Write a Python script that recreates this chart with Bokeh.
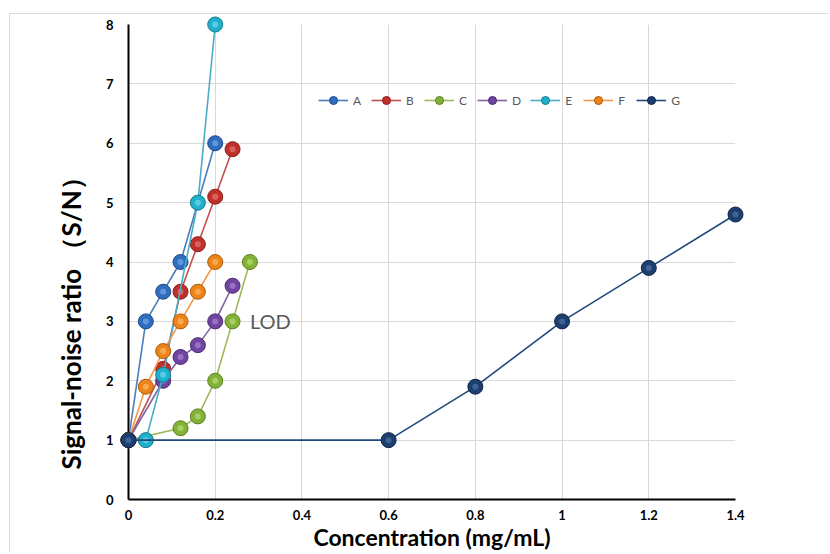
from bokeh.plotting import figure
from bokeh.models import Range1d, FixedTicker, Label, Legend, LegendItem, Title
from bokeh.embed import file_html
from bokeh.resources import INLINE

# ---- data ----
x_ticks = [0, 0.2, 0.4, 0.6, 0.8, 1.0, 1.2, 1.4]
x_tick_labels = ["0", "0.2", "0.4", "0.6", "0.8", "1", "1.2", "1.4"]
y_ticks = [0, 1, 2, 3, 4, 5, 6, 7, 8]
y_tick_labels = ["0", "1", "2", "3", "4", "5", "6", "7", "8"]

series_names = ["A", "B", "C", "D", "E", "F", "G"]
a_x = [0, 0.04, 0.08, 0.12, 0.2]
a_y = [1, 3.0, 3.5, 4.0, 6.0]
b_x = [0, 0.08, 0.12, 0.16, 0.2, 0.24]
b_y = [1, 2.2, 3.5, 4.3, 5.1, 5.9]
c_x = [0, 0.12, 0.16, 0.2, 0.24, 0.28]
c_y = [1, 1.2, 1.4, 2.0, 3.0, 4.0]
d_x = [0, 0.08, 0.12, 0.16, 0.2, 0.24]
d_y = [1, 2.0, 2.4, 2.6, 3.0, 3.6]
e_x = [0, 0.04, 0.08, 0.16, 0.2]
e_y = [1, 1.0, 2.1, 5.0, 8.0]
f_x = [0, 0.04, 0.08, 0.12, 0.16, 0.2]
f_y = [1, 1.9, 2.5, 3.0, 3.5, 4.0]
g_x = [0, 0.6, 0.8, 1.0, 1.2, 1.4]
g_y = [1, 1.0, 1.9, 3.0, 3.9, 4.8]

lod_text = "LOD"
lod_x, lod_y = 0.28, 3.0
x_title = "Concentration (mg/mL)"
y_title = "Signal-noise ratio （S/N）"

# ---- styles ----
line_colors = ["#4a7ebb", "#c0504d", "#9bbb59", "#8064a2", "#4bacc6", "#f79646", "#1f497d"]
fill_colors = ["#2f6dbf", "#c0302a", "#82b336", "#7044a0", "#1fb0cc", "#ee8418", "#1c3f70"]
edge_colors = ["#1d4a86", "#8a1d18", "#5a7f1f", "#4c2a72", "#13788c", "#a95a0c", "#0f2446"]
hi_colors = ["#8cb6ee", "#ee8c86", "#c8e68e", "#b79ad8", "#8ee2f0", "#fbc88c", "#5c80b8"]

xs = [a_x, b_x, c_x, d_x, e_x, f_x, g_x]
ys = [a_y, b_y, c_y, d_y, e_y, f_y, g_y]

W, H = 819, 539
p = figure(width=W, height=H, output_backend="svg", toolbar_location=None,
           x_range=Range1d(0, 1.4), y_range=Range1d(0, 8),
           min_border_left=118, min_border_right=94, min_border_top=10, min_border_bottom=53)
p.margin = (13, 0, 0, 9)
p.styles = {"border-top": "1px solid #d9d9d9", "border-left": "1px solid #d9d9d9"}
p.outline_line_color = None
p.background_fill_color = "white"
p.border_fill_color = "white"

p.xaxis.ticker = FixedTicker(ticks=x_ticks)
p.yaxis.ticker = FixedTicker(ticks=y_ticks)
p.xaxis.major_label_overrides = {t: l for t, l in zip(x_ticks, x_tick_labels)}
p.yaxis.major_label_overrides = {t: l for t, l in zip(y_ticks, y_tick_labels)}
for ax in (p.xaxis, p.yaxis):
    ax.axis_line_color = "black"
    ax.axis_line_width = 2
    ax.major_tick_line_color = None
    ax.minor_tick_line_color = None
    ax.major_label_text_font = "Lato"
    ax.major_label_text_font_style = "bold"
    ax.major_label_text_font_size = "13px"
    ax.major_label_text_color = "black"
p.xaxis.major_label_standoff = 4
p.yaxis.major_label_standoff = 9

p.xaxis.axis_label = x_title
p.xaxis.axis_label_text_font = "Lato"
p.xaxis.axis_label_text_font_size = "23px"
p.xaxis.axis_label_text_font_style = "bold"
p.xaxis.axis_label_text_color = "black"
p.xaxis.axis_label_standoff = 0

p.add_layout(Title(text=y_title, align="left", offset=30, standoff=32,
                   text_font="Lato", text_font_size="26px", text_font_style="bold",
                   text_color="black"), "left")

p.xgrid.ticker = FixedTicker(ticks=x_ticks)
p.ygrid.ticker = FixedTicker(ticks=y_ticks)
p.grid.grid_line_color = "#d9d9d9"
p.grid.grid_line_width = 1

items = []
for i, name in enumerate(series_names):
    ln = p.line(xs[i], ys[i], line_color=line_colors[i], line_width=1.6)
    ln.level = "overlay"
    sc = p.scatter(xs[i], ys[i], size=15, fill_color=fill_colors[i],
                   line_color=edge_colors[i], line_width=1)
    sc.level = "overlay"
    hi = p.scatter(xs[i], ys[i], size=6, fill_color=hi_colors[i], fill_alpha=0.55,
                   line_color=None)
    hi.level = "overlay"
    items.append(LegendItem(label=name, renderers=[ln, sc]))

legend = Legend(items=items, orientation="horizontal", location=(190, 389),
                glyph_width=30, glyph_height=20, label_standoff=5, spacing=9,
                label_width=9, padding=0, margin=0,
                border_line_color=None, background_fill_alpha=0,
                label_text_font="Lato", label_text_font_size="12px",
                label_text_color="#595959")
p.add_layout(legend)

p.add_layout(Label(x=lod_x, y=lod_y, text=lod_text, text_align="left",
                   text_baseline="middle", text_font="Lato", text_font_size="20px",
                   text_color="#595959"))

open("out.html", "w").write(file_html(p, INLINE))
